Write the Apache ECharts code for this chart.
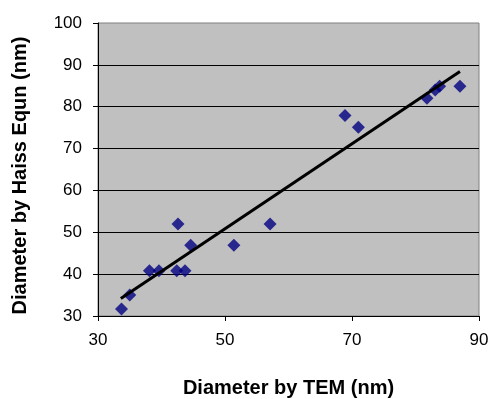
<!DOCTYPE html>
<html>
<head>
<meta charset="utf-8">
<script src="https://cdn.jsdelivr.net/npm/echarts@6/dist/echarts.min.js"></script>
<style>
  html, body { margin: 0; padding: 0; background: #fff; }
  #main { width: 492px; height: 399px; }
</style>
</head>
<body>
<div id="main"></div>
<script>
// measured points (TEM diameter vs Haiss equation diameter)
const temDiameter = [33.7, 35.0, 38.1, 39.6, 42.6, 42.4, 43.7, 44.6, 51.4, 57.1, 68.9, 71.0, 81.8, 83.1, 83.8, 87.0];
const haissDiameter = [31.7, 35.0, 40.8, 40.8, 52.0, 40.8, 40.8, 46.9, 46.9, 52.0, 77.9, 75.1, 82.0, 84.0, 84.9, 84.9];

// linear trend line end points
const trendX = [33.6, 87.0];
const trendY = [34.2, 88.4];

const chart = echarts.init(document.getElementById("main"));

const option = {
  animation: false,
  backgroundColor: "#fff",
  textStyle: { fontFamily: "Liberation Sans, Arial, sans-serif" },
  grid: {
    left: 98,
    right: 13,
    top: 23,
    bottom: 83,
    outerBoundsMode: "none",
    containLabel: false,
    show: true,
    backgroundColor: "#C0C0C0",
    borderColor: "#808080",
    borderWidth: 1,
  },
  xAxis: {
    type: "value",
    min: 30,
    max: 90,
    interval: 20,
    name: "Diameter by TEM (nm)",
    nameLocation: "middle",
    nameGap: 62,
    nameTextStyle: { fontSize: 20, fontWeight: "bold", color: "#000" },
    axisLine: { show: true, lineStyle: { color: "#000", width: 1 } },
    axisTick: { show: true, inside: false, length: 5, lineStyle: { color: "#000" } },
    axisLabel: { fontSize: 17, color: "#000", margin: 16 },
    splitLine: { show: false },
  },
  yAxis: {
    type: "value",
    min: 30,
    max: 100,
    interval: 10,
    name: "Diameter by Haiss Equn (nm)",
    nameLocation: "middle",
    nameGap: 68,
    nameTextStyle: { fontSize: 20, fontWeight: "bold", color: "#000", padding: [0, 12, 0, 0] },
    axisLine: { show: true, lineStyle: { color: "#000", width: 1 } },
    axisTick: { show: true, inside: false, length: 5, lineStyle: { color: "#000" } },
    axisLabel: { fontSize: 17, color: "#000", margin: 16 },
    splitLine: {
      show: true,
      showMinLine: false,
      showMaxLine: false,
      lineStyle: { color: "#000", width: 1 },
    },
  },
  series: [
    {
      type: "scatter",
      symbol: "diamond",
      symbolSize: 13,
      itemStyle: { color: "#000080" },
      data: temDiameter.map((x, i) => [x, haissDiameter[i]]),
      z: 2,
    },
    {
      type: "line",
      showSymbol: false,
      lineStyle: { color: "#000", width: 3 },
      data: trendX.map((x, i) => [x, trendY[i]]),
      z: 3,
    },
  ],
};

chart.setOption(option);
</script>
</body>
</html>
